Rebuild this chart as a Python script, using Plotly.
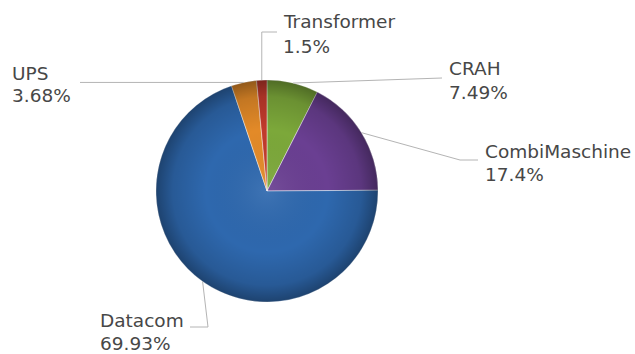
import base64
import math
import plotly.graph_objects as go

# Share of energy use by component (percent)
components = ["CRAH", "CombiMaschine", "Datacom", "UPS", "Transformer"]
shares = [7.49, 17.4, 69.93, 3.68, 1.5]
colors = ["#7ca83a", "#6a3f92", "#2e68ae", "#e38a28", "#c23a2c"]

W, H = 635, 354
CX, CY, R = 267, 191, 111  # pie centre and radius in pixels

# label placement: (left x of text, centre y of name line, centre y of value line)
label_pos = {
    "Transformer": (281, 22, 46),
    "UPS": (10, 73, 96),
    "CRAH": (447, 68, 92),
    "CombiMaschine": (483, 151, 174),
    "Datacom": (98, 320, 343),
}
# leader line routes after the slice edge point (pixel coordinates)
leader_route = {
    "Transformer": [(None, 32), (277, 32)],
    "UPS": [(80, None)],
    "CRAH": [(442, 78)],
    "CombiMaschine": [(460, 160), (478, 160)],
    "Datacom": [(208, 327), (190, 327)],
}


def px(x):
    return x / W


def py(y):
    return 1 - y / H


fig = go.Figure(
    go.Pie(
        labels=components,
        values=shares,
        sort=False,
        direction="clockwise",
        rotation=0,
        marker=dict(colors=colors, line=dict(color="rgba(255,255,255,0.45)", width=1)),
        textinfo="none",
        hoverinfo="label+percent",
        showlegend=False,
        domain=dict(x=[px(CX - R), px(CX + R)], y=[py(CY + R), py(CY - R)]),
    )
)

# radial shading over the pie
svg = (
    '<svg xmlns="http://www.w3.org/2000/svg" width="200" height="200">'
    '<defs><radialGradient id="g" cx="50%" cy="50%" r="50%">'
    '<stop offset="0" stop-color="#ffffff" stop-opacity="0.08"/>'
    '<stop offset="0.55" stop-color="#000000" stop-opacity="0.0"/>'
    '<stop offset="0.85" stop-color="#000000" stop-opacity="0.14"/>'
    '<stop offset="1" stop-color="#000000" stop-opacity="0.36"/>'
    '</radialGradient></defs>'
    '<circle cx="100" cy="100" r="100" fill="url(#g)"/></svg>'
)
fig.add_layout_image(
    source="data:image/svg+xml;base64," + base64.b64encode(svg.encode()).decode(),
    xref="paper", yref="paper",
    x=px(CX - R), y=py(CY - R),
    sizex=2 * R / W, sizey=2 * R / H,
    xanchor="left", yanchor="top",
    sizing="stretch", layer="above",
)

total = sum(shares)
cum = 0.0
font = dict(family="DejaVu Sans, Verdana, sans-serif", size=18.5, color="#474747")
for name, val in zip(components, shares):
    mid = (cum + val / 2) / total * 2 * math.pi
    cum += val
    ex, ey = CX + R * math.sin(mid), CY - R * math.cos(mid)
    pts = [(ex, ey)]
    for (x, y) in leader_route[name]:
        lx, ly = pts[-1]
        pts.append((lx if x is None else x, ly if y is None else y))
    path = "M " + " L ".join(f"{px(x)},{py(y)}" for x, y in pts)
    fig.add_shape(type="path", path=path, xref="paper", yref="paper",
                  line=dict(color="#b4b4b4", width=1))

    lx, y1, y2 = label_pos[name]
    for text, yy in ((name, y1), (f"{val:g}%", y2)):
        fig.add_annotation(
            text=text, x=px(lx), y=py(yy), xref="paper", yref="paper",
            xanchor="left", yanchor="middle", showarrow=False, font=font,
        )

fig.update_layout(
    width=W, height=H,
    margin=dict(l=0, r=0, t=0, b=0),
    paper_bgcolor="white", plot_bgcolor="white",
)

fig.write_html("out.html")
